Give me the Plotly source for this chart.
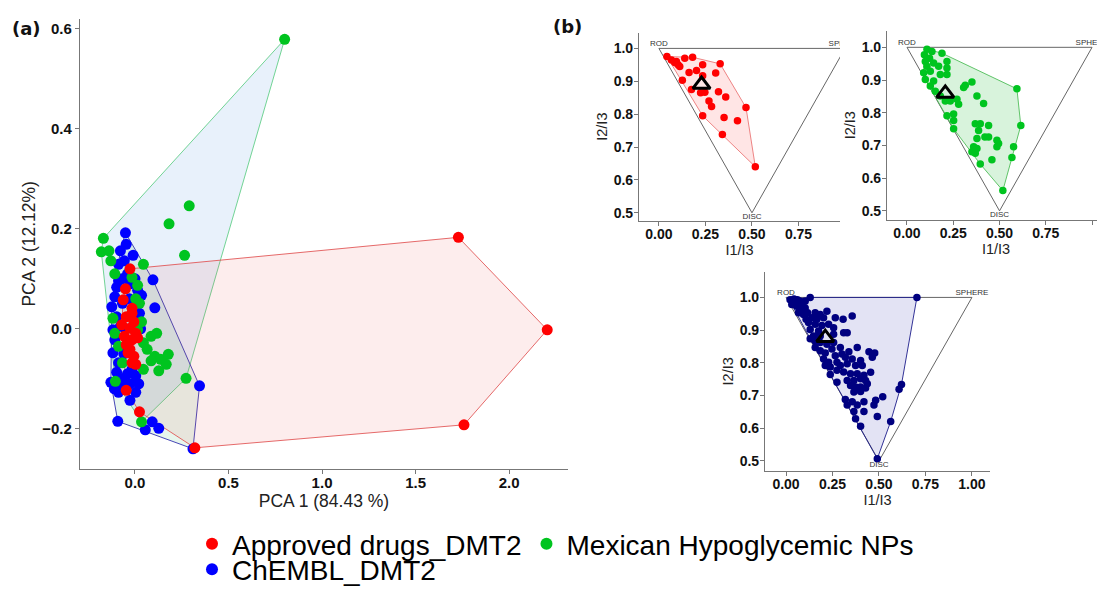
import plotly.graph_objects as go

# ---------------- (a) PCA data ----------------
APPROVED_PC1 = [1.729, 2.204, 1.759, 0.320, -0.027, -0.051, -0.063, -0.016, -0.047, -0.006, -0.071, -0.027,
                0.004, -0.057, -0.016, 0.014, -0.047, -0.027, -0.006, -0.016, 0.004, -0.047, 0.024, -0.016, -0.037]
APPROVED_PC2 = [0.183, -0.002, -0.192, -0.238, 0.120, 0.080, 0.058, 0.041, 0.024, 0.014, 0.008, 0.001,
                -0.009, -0.015, -0.022, -0.018, -0.032, -0.041, -0.055, -0.068, -0.071, -0.123, -0.166, 0.031, -0.048]

MEXICAN_PC1 = [0.800, -0.169, -0.180, 0.182, 0.290, 0.265, 0.273, 0.035, 0.045, -0.129, -0.108, -0.016,
               0.014, 0.004, 0.024, -0.118, -0.108, -0.088, -0.067, 0.045, 0.086, 0.116, 0.065, 0.106,
               0.137, 0.178, 0.167, 0.127, 0.045, 0.086, 0.014, 0.035, -0.139, -0.105]
MEXICAN_PC2 = [0.579, 0.181, 0.154, 0.210, 0.246, 0.147, -0.099, -0.186, 0.129, 0.136, 0.110, 0.103,
               0.087, 0.060, 0.051, 0.021, -0.009, -0.035, -0.068, -0.028, -0.015, -0.009, -0.041, -0.055,
               -0.061, -0.051, -0.071, -0.084, -0.081, -0.064, -0.002, 0.014, 0.156, -0.105]

CHEMBL_PC1 = [-0.051, -0.010, -0.078, 0.096, 0.106, 0.345, 0.310, 0.127, 0.055, 0.092, -0.092, -0.129,
              -0.118, -0.124, -0.098, -0.088, -0.057, -0.108, -0.067, -0.098, -0.078, -0.108, -0.088, -0.098,
              -0.067, -0.027, 0.004, -0.027, 0.004, 0.014, 0.035, -0.027, 0.024, -0.016, -0.088, -0.047,
              -0.067, -0.088, -0.118, -0.040, -0.070, -0.030, 0.000, -0.060, -0.040, 0.020, -0.110, -0.050, 0.030]
CHEMBL_PC2 = [0.192, 0.147, 0.156, 0.098, 0.042, -0.114, -0.240, -0.199, -0.202, -0.186, -0.185, -0.107,
              -0.048, 0.044, 0.083, 0.129, 0.136, 0.064, 0.051, 0.024, 0.005, -0.022, -0.068, -0.087,
              -0.100, -0.110, -0.127, -0.143, -0.094, 0.077, 0.067, 0.090, 0.031, -0.081, 0.096, 0.169,
              -0.117, -0.127, -0.002, 0.110, 0.100, 0.060, 0.100, -0.050, -0.090, -0.110, -0.120, 0.000, 0.000]

# ---------------- (b) PMI data (I1/I3, I2/I3) ----------------
APPROVED_I1 = [0.043, 0.067, 0.094, 0.103, 0.085, 0.139, 0.181, 0.112, 0.235, 0.329, 0.162, 0.202, 0.235, 0.305,
               0.126, 0.175, 0.224, 0.247, 0.320, 0.269, 0.283, 0.359, 0.468, 0.235, 0.350, 0.422, 0.341, 0.518]
APPROVED_I2 = [0.975, 0.965, 0.960, 0.950, 0.957, 0.970, 0.973, 0.945, 0.950, 0.953, 0.927, 0.933, 0.917, 0.925,
               0.903, 0.875, 0.865, 0.867, 0.868, 0.840, 0.823, 0.852, 0.820, 0.795, 0.790, 0.780, 0.738, 0.640]
APPROVED_MEAN = [0.229, 0.890]

MEXICAN_I1 = [0.108, 0.135, 0.094, 0.122, 0.189, 0.099, 0.144, 0.216, 0.171, 0.108, 0.216, 0.126, 0.090, 0.180,
              0.216, 0.099, 0.144, 0.126, 0.153, 0.180, 0.207, 0.234, 0.270, 0.279, 0.306, 0.315, 0.351, 0.378,
              0.414, 0.594, 0.252, 0.216, 0.252, 0.252, 0.369, 0.396, 0.387, 0.441, 0.378, 0.421, 0.441, 0.486,
              0.495, 0.486, 0.360, 0.351, 0.369, 0.396, 0.459, 0.576, 0.567, 0.615, 0.518, 0.378]
MEXICAN_I2 = [0.994, 0.987, 0.977, 0.967, 0.982, 0.957, 0.952, 0.957, 0.942, 0.942, 0.937, 0.927, 0.922, 0.917,
              0.917, 0.902, 0.897, 0.882, 0.866, 0.851, 0.836, 0.836, 0.841, 0.826, 0.877, 0.884, 0.894, 0.851,
              0.828, 0.873, 0.796, 0.791, 0.776, 0.751, 0.766, 0.766, 0.746, 0.761, 0.721, 0.726, 0.726, 0.716,
              0.706, 0.696, 0.696, 0.681, 0.676, 0.643, 0.656, 0.696, 0.663, 0.761, 0.562, 0.691]
MEXICAN_MEAN = [0.207, 0.859]

CHEMBL_I1 = [0.022, 0.043, 0.061, 0.076, 0.049, 0.085, 0.058, 0.103, 0.076, 0.130, 0.704, 0.116, 0.094, 0.157,
             0.184, 0.220, 0.139, 0.166, 0.202, 0.265, 0.356, 0.121, 0.157, 0.193, 0.229, 0.256, 0.130, 0.175,
             0.148, 0.130, 0.157, 0.256, 0.310, 0.329, 0.184, 0.220, 0.256, 0.184, 0.211, 0.247, 0.292, 0.301,
             0.383, 0.446, 0.477, 0.464, 0.211, 0.238, 0.274, 0.319, 0.356, 0.329, 0.374, 0.410, 0.274, 0.310,
             0.238, 0.347, 0.383, 0.419, 0.329, 0.365, 0.401, 0.428, 0.274, 0.347, 0.374, 0.401, 0.428, 0.437,
             0.365, 0.401, 0.319, 0.356, 0.329, 0.383, 0.419, 0.473, 0.482, 0.520, 0.365, 0.419, 0.491, 0.374,
             0.401, 0.563, 0.608, 0.621, 0.491, 0.307, 0.103, 0.031, 0.067, 0.108, 0.184, 0.157, 0.202, 0.229,
             0.292, 0.265, 0.338, 0.401, 0.455]
CHEMBL_I2 = [0.993, 0.995, 0.993, 0.988, 0.983, 0.978, 0.973, 0.968, 0.963, 1.000, 1.000, 0.953, 0.948, 0.953,
             0.948, 0.958, 0.938, 0.933, 0.938, 0.938, 0.943, 0.923, 0.918, 0.914, 0.918, 0.907, 0.902, 0.897,
             0.882, 0.874, 0.867, 0.887, 0.892, 0.892, 0.862, 0.857, 0.862, 0.837, 0.830, 0.842, 0.847, 0.827,
             0.847, 0.834, 0.830, 0.817, 0.792, 0.787, 0.802, 0.817, 0.812, 0.797, 0.792, 0.792, 0.777, 0.772,
             0.764, 0.767, 0.767, 0.762, 0.746, 0.746, 0.751, 0.746, 0.741, 0.731, 0.726, 0.726, 0.723, 0.736,
             0.711, 0.712, 0.688, 0.681, 0.671, 0.671, 0.681, 0.671, 0.686, 0.696, 0.651, 0.651, 0.636, 0.629,
             0.606, 0.621, 0.719, 0.734, 0.507, 0.933, 0.988, 0.978, 0.953, 0.933, 0.882, 0.847, 0.812, 0.802,
             0.792, 0.822, 0.834, 0.807, 0.771]
CHEMBL_MEAN = [0.211, 0.877]

# PMI reference triangle (rod, sphere, disc)
PMI_TRI_X = [0.0, 1.0, 0.5, 0.0]
PMI_TRI_Y = [1.0, 1.0, 0.5, 1.0]
VERTEX_LABELS = ["ROD", "SPHERE", "DISC"]
VERTEX_POS = ["top center", "top center", "bottom center"]

SERIES_NAMES = ["Approved drugs_DMT2", "Mexican Hypoglycemic NPs", "ChEMBL_DMT2"]


def convex_hull(xs, ys):
    pts = sorted(set(zip(xs, ys)))

    def cross(o, a, b):
        return (a[0] - o[0]) * (b[1] - o[1]) - (a[1] - o[1]) * (b[0] - o[0])

    lower, upper = [], []
    for p in pts:
        while len(lower) >= 2 and cross(lower[-2], lower[-1], p) <= 0:
            lower.pop()
        lower.append(p)
    for p in reversed(pts):
        while len(upper) >= 2 and cross(upper[-2], upper[-1], p) <= 0:
            upper.pop()
        upper.append(p)
    h = lower[:-1] + upper[:-1]
    h.append(h[0])
    return [p[0] for p in h], [p[1] for p in h]


fig = go.Figure()
FONT = "Liberation Sans, Arial, sans-serif"

# ---------- (a) hulls ----------
for xs, ys, fc, lc in [
    (MEXICAN_PC1, MEXICAN_PC2, "rgba(100,160,230,0.15)", "rgba(90,205,130,0.85)"),
    (CHEMBL_PC1, CHEMBL_PC2, "rgba(60,180,110,0.12)", "rgba(40,40,170,0.85)"),
    (APPROVED_PC1, APPROVED_PC2, "rgba(240,80,80,0.10)", "rgba(225,80,80,0.85)"),
]:
    hx, hy = convex_hull(xs, ys)
    fig.add_trace(go.Scatter(x=hx, y=hy, mode="lines", fill="toself", fillcolor=fc,
                             line=dict(color=lc, width=1), hoverinfo="skip", showlegend=False,
                             xaxis="x", yaxis="y"))

# ---------- (a) points ----------
fig.add_trace(go.Scatter(x=CHEMBL_PC1, y=CHEMBL_PC2, mode="markers", name=SERIES_NAMES[2],
                         marker=dict(color="#0000ff", size=11), legend="legend2", legendrank=3,
                         xaxis="x", yaxis="y"))
fig.add_trace(go.Scatter(x=MEXICAN_PC1, y=MEXICAN_PC2, mode="markers", name=SERIES_NAMES[1],
                         marker=dict(color="#00c41f", size=11), legend="legend", legendrank=2,
                         xaxis="x", yaxis="y"))
fig.add_trace(go.Scatter(x=APPROVED_PC1, y=APPROVED_PC2, mode="markers", name=SERIES_NAMES[0],
                         marker=dict(color="#ff0000", size=11), legend="legend", legendrank=1,
                         xaxis="x", yaxis="y"))

# ---------- (b) panels ----------
panels = [
    ("x2", "y2", APPROVED_I1, APPROVED_I2, APPROVED_MEAN, "#ff0000", "rgba(255,110,110,0.18)", "rgba(235,120,120,0.9)"),
    ("x3", "y3", MEXICAN_I1, MEXICAN_I2, MEXICAN_MEAN, "#00c41f", "rgba(40,190,60,0.18)", "rgba(80,190,90,0.9)"),
    ("x4", "y4", CHEMBL_I1, CHEMBL_I2, CHEMBL_MEAN, "#000080", "rgba(90,90,190,0.17)", "rgba(30,30,140,0.9)"),
]
for xa, ya, xs, ys, mean, col, fc, lc in panels:
    fig.add_trace(go.Scatter(x=PMI_TRI_X, y=PMI_TRI_Y, mode="lines", line=dict(color="#666666", width=1),
                             hoverinfo="skip", showlegend=False, xaxis=xa, yaxis=ya))
    hx, hy = convex_hull(xs, ys)
    fig.add_trace(go.Scatter(x=hx, y=hy, mode="lines", fill="toself", fillcolor=fc,
                             line=dict(color=lc, width=1), hoverinfo="skip", showlegend=False,
                             xaxis=xa, yaxis=ya))
    fig.add_trace(go.Scatter(x=xs, y=ys, mode="markers", marker=dict(color=col, size=7.5),
                             showlegend=False, xaxis=xa, yaxis=ya))
    fig.add_trace(go.Scatter(x=[mean[0]], y=[mean[1]], mode="markers",
                             marker=dict(symbol="triangle-up-open", size=15, color="black",
                                         line=dict(color="black", width=3)),
                             showlegend=False, xaxis=xa, yaxis=ya))
    fig.add_trace(go.Scatter(x=PMI_TRI_X[:3], y=PMI_TRI_Y[:3], mode="text", text=VERTEX_LABELS,
                             textposition=VERTEX_POS, textfont=dict(family=FONT, size=8, color="#333333"),
                             cliponaxis=True, hoverinfo="skip", showlegend=False, xaxis=xa, yaxis=ya))

# page offset (body margin) compensation: window pixel -> figure pixel
OX, OY = 8, 7
W, H = 1097, 587


def dom_x(a, b):
    return [(a - OX) / W, min((b - OX) / W, 1.0)]


def dom_y(top, bottom):
    return [1 - (bottom - OY) / H, 1 - (top - OY) / H]


def px(x):
    return (x - OX) / W


def py(y):
    return 1 - (y - OY) / H


tickfont_a = dict(family=FONT, size=15, color="#111111", weight="bold")
tickfont_b = dict(family=FONT, size=14, color="#111111", weight="bold")
titlefont_a = dict(family=FONT, size=17.5, color="#222222")
titlefont_b = dict(family=FONT, size=14.5, color="#222222")

common = dict(showgrid=False, zeroline=False, showline=True, linecolor="#777777", linewidth=1.2,
              ticks="outside", ticklen=4, tickcolor="#777777", automargin=False)
xcommon = dict(common, ticklabelstandoff=-4)
ycommon_b = dict(common, ticklabelstandoff=-2)

layout_axes = dict(
    xaxis=dict(domain=dom_x(80, 568), range=[-0.294, 2.315], tickvals=[0, 0.5, 1.0, 1.5, 2.0],
               tickformat=".1f", tickfont=tickfont_a, anchor="y",
               title=dict(text="PCA 1 (84.43 %)", font=titlefont_a, standoff=0), **xcommon),
    yaxis=dict(domain=dom_y(18, 475), range=[-0.28, 0.62], tickvals=[-0.2, 0, 0.2, 0.4, 0.6],
               tickformat=".1f", tickfont=tickfont_a, anchor="x",
               title=dict(text="PCA 2 (12.12%)", font=titlefont_a, standoff=2), **common),
    xaxis2=dict(domain=dom_x(639, 840), range=[-0.107, 0.973], tickvals=[0, 0.25, 0.5, 0.75, 1.0],
                tickformat=".2f", tickfont=tickfont_b, anchor="y2",
                title=dict(text="I1/I3", font=titlefont_b, standoff=0), **xcommon),
    yaxis2=dict(domain=dom_y(32, 223), range=[0.476, 1.048], tickvals=[0.5, 0.6, 0.7, 0.8, 0.9, 1.0],
                tickformat=".1f", tickfont=tickfont_b, anchor="x2",
                title=dict(text="I2/I3", font=titlefont_b, standoff=2), **ycommon_b),
    xaxis3=dict(domain=dom_x(887, 1105), range=[-0.108, 1.070], tickvals=[0, 0.25, 0.5, 0.75, 1.0],
                tickformat=".2f", tickfont=tickfont_b, anchor="y3",
                title=dict(text="I1/I3", font=titlefont_b, standoff=0), **xcommon),
    yaxis3=dict(domain=dom_y(30, 222), range=[0.473, 1.051], tickvals=[0.5, 0.6, 0.7, 0.8, 0.9, 1.0],
                tickformat=".1f", tickfont=tickfont_b, anchor="x3",
                title=dict(text="I2/I3", font=titlefont_b, standoff=2), **ycommon_b),
    xaxis4=dict(domain=dom_x(765, 990), range=[-0.113, 1.097], tickvals=[0, 0.25, 0.5, 0.75, 1.0],
                tickformat=".2f", tickfont=tickfont_b, anchor="y4",
                title=dict(text="I1/I3", font=titlefont_b, standoff=0), **xcommon),
    yaxis4=dict(domain=dom_y(275, 477), range=[0.47, 1.078], tickvals=[0.5, 0.6, 0.7, 0.8, 0.9, 1.0],
                tickformat=".1f", tickfont=tickfont_b, anchor="x4",
                title=dict(text="I2/I3", font=titlefont_b, standoff=2), **ycommon_b),
)

legend_font = dict(family=FONT, size=28, color="#000000")
fig.update_layout(
    width=W, height=H,
    margin=dict(l=0, r=0, t=0, b=0),
    paper_bgcolor="white", plot_bgcolor="white",
    legend=dict(orientation="h", x=px(192), xanchor="left", y=py(526), yanchor="top",
                font=legend_font, bgcolor="rgba(0,0,0,0)", itemsizing="constant",
                itemwidth=30, tracegroupgap=0),
    legend2=dict(orientation="h", x=px(192), xanchor="left", y=py(552), yanchor="top",
                 font=legend_font, bgcolor="rgba(0,0,0,0)", itemsizing="constant", itemwidth=30),
    annotations=[
        dict(text="<b>(a)</b>", x=px(10), y=py(28), xref="paper", yref="paper", xanchor="left",
             yanchor="middle", showarrow=False, font=dict(family="DejaVu Sans", size=18, color="#111111")),
        dict(text="<b>(b)</b>", x=px(551), y=py(26), xref="paper", yref="paper", xanchor="left",
             yanchor="middle", showarrow=False, font=dict(family="DejaVu Sans", size=18, color="#111111")),
    ],
    **layout_axes,
)

fig.write_html("out.html")
